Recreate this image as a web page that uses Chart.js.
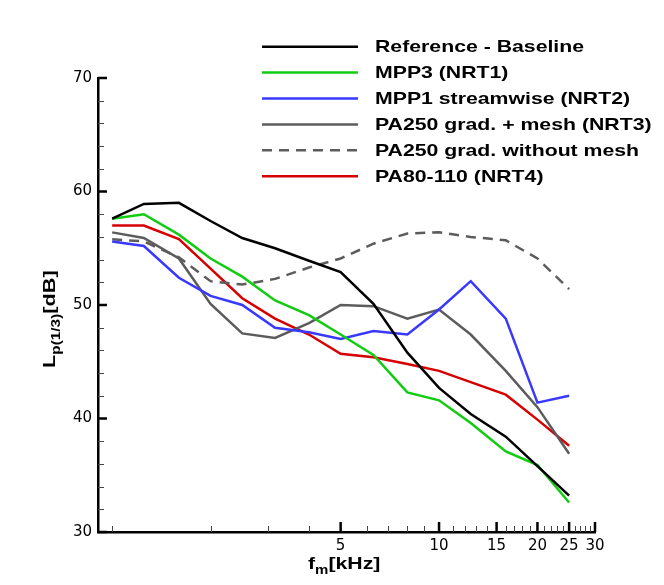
<!DOCTYPE html>
<html>
<head>
<meta charset="utf-8">
<script src="https://cdn.jsdelivr.net/npm/chart.js@4"></script>
<style>
html,body{margin:0;padding:0;background:#fff;}
#c{display:block;}
</style>
</head>
<body>
<canvas id="c" width="664" height="585"></canvas>
<script>
// ---- data (third-octave band centre frequencies, kHz) ----
const freqs = [1, 1.25, 1.6, 2, 2.5, 3.15, 4, 5, 6.3, 8, 10, 12.5, 16, 20, 25];
const baseline   = [57.6, 58.9, 59.0, 57.4, 55.9, 55.0, 53.9, 52.9, 50.1, 45.8, 42.7, 40.4, 38.4, 35.8, 33.2];
const mpp3       = [57.6, 58.0, 56.2, 54.1, 52.5, 50.4, 49.1, 47.4, 45.6, 42.3, 41.6, 39.6, 37.1, 35.9, 32.6];
const mpp1       = [55.6, 55.2, 52.4, 50.8, 50.0, 48.0, 47.6, 47.0, 47.7, 47.4, 49.6, 52.1, 48.8, 41.4, 42.0];
const pa250mesh  = [56.4, 55.9, 54.1, 50.1, 47.5, 47.1, 48.4, 50.0, 49.9, 48.8, 49.6, 47.4, 44.2, 41.0, 36.9];
const pa250noMesh= [55.8, 55.6, 54.2, 52.1, 51.8, 52.3, 53.3, 54.1, 55.4, 56.3, 56.4, 56.0, 55.7, 54.1, 51.4];
const pa80       = [57.0, 57.0, 55.8, 53.2, 50.6, 48.8, 47.4, 45.7, 45.4, 44.8, 44.2, 43.2, 42.1, 39.9, 37.6];

const seriesLabels = ["Reference - Baseline", "MPP3 (NRT1)", "MPP1 streamwise (NRT2)",
  "PA250 grad. + mesh (NRT3)", "PA250 grad. without mesh", "PA80-110 (NRT4)"];

const xMajorTicks = [5, 10, 15, 20, 25, 30];
const xMinorTicks = [1, 2, 3, 4, 6, 7, 8, 9, 11, 12, 13, 14, 16, 17, 18, 19, 21, 22, 23, 24, 26, 27, 28, 29];
const yMajorTicks = [30, 40, 50, 60, 70];
const yMinorTicks = [32, 34, 36, 38, 42, 44, 46, 48, 52, 54, 56, 58, 62, 64, 66, 68];

function pts(vals){ return freqs.map((f,i)=>({x:f, y:vals[i]})); }

const styles = [
  {c:'#000000', d:[]},
  {c:'#12cc12', d:[]},
  {c:'#3838ff', d:[]},
  {c:'#5c5c5c', d:[]},
  {c:'#5c5c5c', d:[10,7]},
  {c:'#d60000', d:[]}
];
const allSeries = [baseline, mpp3, mpp1, pa250mesh, pa250noMesh, pa80];

const datasets = allSeries.map((s,i)=>({
  label: seriesLabels[i],
  data: pts(s),
  borderColor: styles[i].c,
  backgroundColor: styles[i].c,
  borderDash: styles[i].d,
  borderWidth: 2.5,
  pointRadius: 0,
  tension: 0,
  fill: false
}));

const BOLD = 'bold 17px "Liberation Sans", Arial, sans-serif';
const SUB = 'bold 12px "Liberation Sans", Arial, sans-serif';
const SX = 1.25;

function stretchedText(ctx, text, x, y, font, sx){
  ctx.save();
  ctx.font = font;
  ctx.translate(x, y);
  ctx.scale(sx, 1);
  ctx.fillText(text, 0, 0);
  const w = ctx.measureText(text).width * sx;
  ctx.restore();
  return w;
}

const decor = {
  id: 'decor',
  afterDraw(chart){
    const ctx = chart.ctx;
    const xs = chart.scales.x, ys = chart.scales.y;
    const ca = chart.chartArea;
    ctx.save();
    ctx.strokeStyle = '#000';
    ctx.lineCap = 'butt';
    // y ticks (inward)
    yMajorTicks.forEach(v=>{
      const y = ys.getPixelForValue(v);
      ctx.lineWidth = 2.5; ctx.beginPath(); ctx.moveTo(ca.left, y); ctx.lineTo(ca.left + 9, y); ctx.stroke();
    });
    ctx.strokeStyle = '#444';
    yMinorTicks.forEach(v=>{
      const y = Math.round(ys.getPixelForValue(v)) + 0.5;
      ctx.lineWidth = 1; ctx.beginPath(); ctx.moveTo(ca.left, y); ctx.lineTo(ca.left + 6, y); ctx.stroke();
    });
    // x ticks (inward)
    ctx.strokeStyle = '#000';
    xMajorTicks.forEach(v=>{
      const x = xs.getPixelForValue(v);
      ctx.lineWidth = 2.5; ctx.beginPath(); ctx.moveTo(x, ca.bottom); ctx.lineTo(x, ca.bottom - 10); ctx.stroke();
    });
    ctx.strokeStyle = '#444';
    xMinorTicks.forEach(v=>{
      const x = Math.round(xs.getPixelForValue(v)) + 0.5;
      ctx.lineWidth = 1; ctx.beginPath(); ctx.moveTo(x, ca.bottom); ctx.lineTo(x, ca.bottom - 6); ctx.stroke();
    });

    // legend
    ctx.fillStyle = '#000';
    ctx.textBaseline = 'middle';
    ctx.textAlign = 'left';
    chart.data.datasets.forEach((ds,i)=>{
      const y = 46.7 + i * 25.9;
      ctx.save();
      ctx.strokeStyle = ds.borderColor;
      ctx.lineWidth = 2.5;
      ctx.setLineDash(ds.borderDash || []);
      ctx.beginPath(); ctx.moveTo(262, y); ctx.lineTo(358, y); ctx.stroke();
      ctx.restore();
      stretchedText(ctx, ds.label, 375, y + 1, BOLD, SX);
    });

    // x axis title: f_m[kHz]
    ctx.textBaseline = 'alphabetic';
    let x0 = 308, yb = 569;
    x0 += stretchedText(ctx, 'f', x0, yb, BOLD, SX);
    x0 += stretchedText(ctx, 'm', x0, yb + 5, SUB, SX);
    stretchedText(ctx, '[kHz]', x0, yb, BOLD, SX);

    // y axis title: L_p(1/3)[dB], rotated
    ctx.save();
    ctx.translate(55, 368);
    ctx.rotate(-Math.PI/2);
    let t = 0;
    t += stretchedText(ctx, 'L', t, 0, BOLD, 1.28);
    t += stretchedText(ctx, 'p(1/3)', t, 5, SUB, 1.28);
    stretchedText(ctx, '[dB]', t, 0, BOLD, 1.28);
    ctx.restore();

    ctx.restore();
  }
};

new Chart(document.getElementById('c'), {
  type: 'line',
  data: { datasets },
  options: {
    responsive: false,
    animation: false,
    devicePixelRatio: 1,
    layout: { padding: { top: 78, right: 69, left: 0, bottom: 0 } },
    plugins: { legend: { display: false }, tooltip: { enabled: false }, title: { display: false } },
    scales: {
      x: {
        type: 'logarithmic',
        min: 0.905,
        max: 30,
        grid: { display: false, drawTicks: false },
        border: { display: true, color: '#000', width: 2.5 },
        ticks: {
          autoSkip: false, maxRotation: 0, minRotation: 0, padding: 5,
          color: '#000', font: { family: '"DejaVu Sans", sans-serif', size: 15 },
          callback: (v) => String(v)
        },
        afterBuildTicks: (s) => { s.ticks = xMajorTicks.map(v=>({value:v})); },
        afterFit: (s) => { s.height = 53; }
      },
      y: {
        type: 'linear',
        min: 30,
        max: 70,
        grid: { display: false, drawTicks: false },
        border: { display: true, color: '#000', width: 2.5 },
        ticks: {
          padding: 6, color: '#000',
          font: { family: '"DejaVu Sans", sans-serif', size: 15 },
          callback: (v) => String(v)
        },
        afterBuildTicks: (s) => { s.ticks = yMajorTicks.map(v=>({value:v})); },
        afterFit: (s) => { s.width = 98; }
      }
    }
  },
  plugins: [decor]
});
</script>
</body>
</html>
